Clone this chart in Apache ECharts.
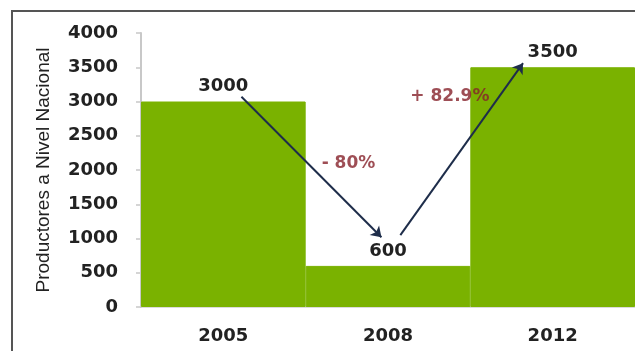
<!DOCTYPE html>
<html>
<head>
<meta charset="utf-8">
<script src="https://cdn.jsdelivr.net/npm/echarts@6/dist/echarts.min.js"></script>
<style>
html, body { margin: 0; padding: 0; background: #fff; overflow: hidden; }
#wrap { position: relative; width: 635px; height: 351px; overflow: hidden; }
#container { width: 635px; height: 351px; }
#frame { position: absolute; left: 11px; top: 10px; width: 640px; height: 360px;
  border-top: 2px solid #555; border-left: 2px solid #555; pointer-events: none; }
</style>
</head>
<body>
<div id="wrap">
  <div id="container"></div>
  <div id="frame"></div>
</div>
<script>
const container = document.getElementById('container');
const chartIns = echarts.init(container, undefined, { renderer: 'canvas' });

// datos
const years = ['2005', '2008', '2012'];
const producers = [3000, 600, 3500];

// flechas: [posición en categorías, valor]
const arrowFrom = [[0.61, 3070], [1.575, 1050]];
const arrowTo = [[1.46, 1018], [2.32, 3560]];
const changeLabels = ['- 80%', '+ 82.9%'];
const changePos = [[1.26, 2100], [1.876, 3070]];

const GREEN = '#7AB200';
const boldText = {
  fontFamily: 'DejaVu Sans',
  fontWeight: 'bold',
  fontSize: 18,
  color: '#222'
};

const option = {
  animation: false,
  grid: { left: 141, width: 497, top: 33, height: 274 },
  xAxis: [
    {
      type: 'category',
      data: years,
      axisLine: { lineStyle: { color: '#cfcfcf', width: 1.5 } },
      axisTick: { show: false },
      axisLabel: Object.assign({ margin: 20 }, boldText)
    },
    { type: 'value', min: 0, max: 3, show: false }
  ],
  yAxis: {
    type: 'value',
    min: 0,
    max: 4000,
    interval: 500,
    name: 'Productores a Nivel Nacional',
    nameLocation: 'middle',
    nameGap: 88,
    nameTextStyle: { fontFamily: 'Liberation Sans', fontSize: 19, color: '#222' },
    axisLine: { show: true, lineStyle: { color: '#c8c8c8', width: 2 } },
    axisTick: { show: true, length: 5, lineStyle: { color: '#c8c8c8', width: 1.5 } },
    splitLine: { show: false },
    axisLabel: Object.assign({ margin: 23, formatter: (v) => String(v) }, boldText)
  },
  series: [
    {
      type: 'bar',
      data: producers,
      barCategoryGap: '0%',
      itemStyle: { color: GREEN, borderColor: GREEN, borderWidth: 1 },
      label: Object.assign({ show: true, position: 'top', distance: 6 }, boldText)
    },
    {
      type: 'lines',
      coordinateSystem: 'cartesian2d',
      xAxisIndex: 1,
      polyline: false,
      symbol: ['none', 'arrow'],
      symbolSize: 10,
      z: 5,
      lineStyle: { color: '#1E2D4A', width: 2, opacity: 1, curveness: 0 },
      data: arrowFrom.map((p, i) => ({ coords: [p, arrowTo[i]] }))
    },
    {
      type: 'scatter',
      xAxisIndex: 1,
      symbolSize: 1,
      itemStyle: { color: 'rgba(0,0,0,0)' },
      z: 6,
      label: Object.assign({}, boldText, {
        show: true,
        position: 'inside',
        fontSize: 17,
        color: '#86222A',
        formatter: (p) => p.name
      }),
      data: changePos.map((p, i) => ({ name: changeLabels[i], value: p }))
    }
  ]
};

chartIns.setOption(option);
</script>
</body>
</html>
